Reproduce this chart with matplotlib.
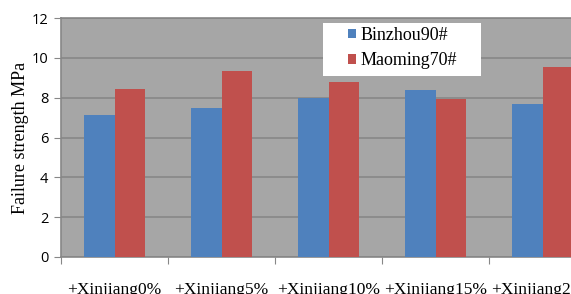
import matplotlib.pyplot as plt
from matplotlib.patches import Rectangle
import numpy as np

categories = ['+Xinjiang0%', '+Xinjiang5%', '+Xinjiang10%', '+Xinjiang15%', '+Xinjiang20%']
binzhou = [7.13, 7.48, 7.97, 8.38, 7.68]
maoming = [8.42, 9.34, 8.80, 7.93, 9.55]
series_names = ['Binzhou90#', 'Maoming70#']

fig = plt.figure(figsize=(5.71, 2.94), dpi=100)
ax = fig.add_axes([61/571, 1-257/294, 535/571, 239/294])

x = np.arange(len(categories))
w = 0.285
ax.bar(x - w/2, binzhou, w, color='#4F81BD', label=series_names[0], zorder=3)
ax.bar(x + w/2, maoming, w, color='#C0504D', label=series_names[1], zorder=3)

ax.set_facecolor('#A6A6A6')
ax.set_xlim(-0.5, len(categories) - 0.5)
ax.set_ylim(0, 12)
ax.set_yticks(range(0, 13, 2))
ax.yaxis.grid(True, color='#878787', linewidth=1.2, zorder=0)
ax.set_axisbelow(True)

# 类别之间画刻度线，标签放在中间
ax.set_xticks(np.arange(-0.5, len(categories), 1))
ax.set_xticklabels([])
ax.set_xticks(x, minor=True)
ax.set_xticklabels(categories, minor=True, fontfamily='Liberation Serif', fontsize=12.5)
ax.tick_params(axis='x', which='minor', length=0, pad=18)
ax.tick_params(axis='x', which='major', length=5, color='#878787', direction='out')
ax.tick_params(axis='y', length=5, color='#878787', labelsize=10.5, pad=4)
for lab in ax.get_yticklabels():
    lab.set_fontfamily('Open Sans')

for s in ax.spines.values():
    s.set_color('#878787')
    s.set_linewidth(1.2)

ax.set_ylabel('Failure strength MPa', fontfamily='Liberation Serif', fontsize=13, labelpad=2)

# 白色图例底框
ax.add_patch(Rectangle((262/535, 181/239), 158/535, 53/239, transform=ax.transAxes,
                       facecolor='white', edgecolor='none', zorder=5))
leg = ax.legend(loc='upper left', bbox_to_anchor=(287/535, 230/239),
                frameon=False, prop={'family': 'Liberation Serif', 'size': 13},
                handlelength=0.45, handleheight=0.45, handletextpad=0.25, borderpad=0,
                labelspacing=0.45, borderaxespad=0)
leg.set_zorder(6)

fig.savefig('out.png', dpi=100)
